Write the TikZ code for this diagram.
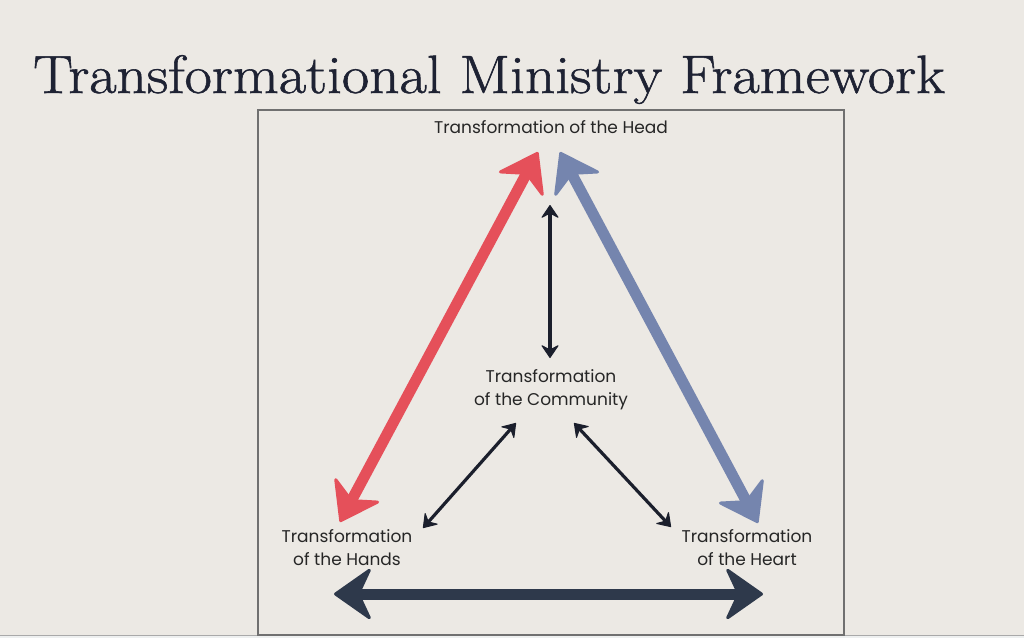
\documentclass[tikz,border=0pt]{standalone}
\usepackage{fontspec}
\setsansfont{Poppins}
\usetikzlibrary{arrows.meta}
\definecolor{bg}{HTML}{ECE9E4}
\definecolor{strip}{HTML}{EEF0F0}
\definecolor{frame}{HTML}{707070}
\definecolor{redarr}{HTML}{E5505A}
\definecolor{bluearr}{HTML}{7585AE}
\definecolor{navy}{HTML}{2E394B}
\definecolor{ink}{HTML}{1B1F2C}
\definecolor{txt}{HTML}{262626}
\definecolor{titlec}{HTML}{1E2233}
\newfontfamily\titlefont{Latin Modern Roman}[FakeBold=1.0]
\tikzset{
  lbl/.style={font=\sffamily\fontsize{17}{23}\selectfont, text=txt, align=center, inner sep=0pt},
  titletext/.style={font=\titlefont\fontsize{54}{60}\selectfont, text=titlec, inner sep=0pt, xscale=1.1},
  bigarrow/.style={line width=11pt, {Stealth[length=40pt,width=56pt,inset=13pt,round,line width'=3pt]}-{Stealth[length=40pt,width=56pt,inset=13pt,round,line width'=3pt]}},
  smallarrow/.style={line width=3.2pt, draw=ink, {Stealth[length=14pt,width=19pt,inset=5pt,round,line width'=1pt]}-{Stealth[length=14pt,width=19pt,inset=5pt,round,line width'=1pt]}},
  framebox/.style={draw=frame, line width=1.2pt}
}
\begin{document}
\begin{tikzpicture}[x=1pt,y=-1pt]
\fill[bg] (0,0) rectangle (1024,638);
\useasboundingbox (0,0) rectangle (1024,638);
\fill[strip] (0,635) rectangle (1024,638);
\draw[frame!60, line width=0.8pt] (0,635) -- (1024,635);
\node[titletext, anchor=base west] (title) at (33,93) {Transformational Ministry Framework};
\draw[framebox] (258,110) rectangle (844,635);
\node[lbl] (head) at (551,127) {Transformation of the Head};
\node[lbl] (comm) at (551,390) {Transformation\\of the Community};
\node[lbl] (hands) at (347,548) {Transformation\\of the Hands};
\node[lbl] (heart) at (747,548) {Transformation\\of the Heart};
\coordinate (rtop) at (538,152);
\coordinate (rbot) at (340,522);
\coordinate (btop) at (560,152);
\coordinate (bbot) at (758,523);
\coordinate (hl) at (334,594);
\coordinate (hr) at (763,594);
\coordinate (vt) at (550,205);
\coordinate (vb) at (550,358);
\coordinate (lt) at (516,423);
\coordinate (lb) at (423,528);
\coordinate (rt) at (574,423);
\coordinate (rb) at (671,527);
\draw[bigarrow, draw=redarr, fill=redarr] (rbot) -- (rtop);
\draw[bigarrow, draw=bluearr, fill=bluearr] (btop) -- (bbot);
\draw[bigarrow, draw=navy, fill=navy] (hl) -- (hr);
\draw[smallarrow] (vt) -- (vb);
\draw[smallarrow] (lt) -- (lb);
\draw[smallarrow] (rt) -- (rb);
\end{tikzpicture}
\end{document}
